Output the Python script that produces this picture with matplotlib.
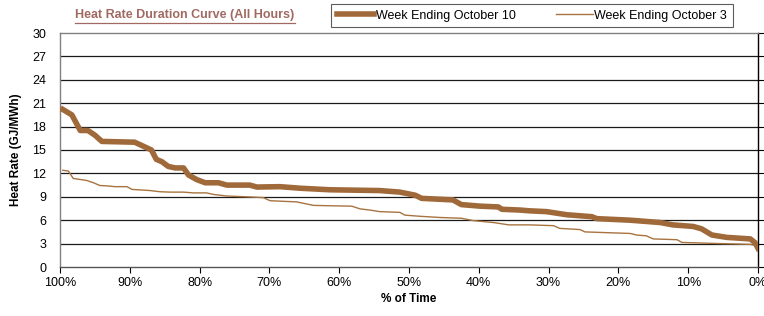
import matplotlib
matplotlib.use("Agg")
import matplotlib.pyplot as plt

plt.rcParams['font.family'] = ['Liberation Sans', 'DejaVu Sans']

title = "Heat Rate Duration Curve (All Hours)"
series_names = ["Week Ending October 10", "Week Ending October 3"]

pct_oct10 = [99.6, 98.3, 97.1, 96.0, 95.0, 94.0, 89.3, 88.1, 86.9, 86.2, 85.4, 84.5, 83.5, 82.3,
             81.6, 80.4, 79.2, 77.3, 76.1, 72.8, 71.8, 68.5, 65.6, 61.3, 54.2, 51.3, 49.1, 48.2,
             43.7, 42.5, 39.8, 37.2, 36.7, 34.1, 32.7, 30.3, 27.4, 23.8, 23.1, 18.3, 14.0, 12.2,
             9.3, 8.1, 6.6, 4.5, 1.1, 0.4, 0.0]
hr_oct10 = [20.2, 19.5, 17.5, 17.5, 16.9, 16.1, 16.0, 15.5, 15.0, 13.8, 13.5, 12.9, 12.7, 12.7,
            11.8, 11.2, 10.8, 10.8, 10.5, 10.5, 10.25, 10.3, 10.1, 9.9, 9.8, 9.6, 9.2, 8.8,
            8.6, 8.0, 7.8, 7.7, 7.4, 7.3, 7.2, 7.1, 6.7, 6.45, 6.2, 6.0, 5.7, 5.4,
            5.2, 4.9, 4.1, 3.8, 3.6, 3.1, 2.4]

pct_oct3 = [99.6, 98.8, 98.1, 96.2, 95.2, 94.3, 93.3, 92.1, 90.4, 89.7, 87.1, 85.7, 84.2, 82.3,
            80.9, 79.0, 78.0, 76.1, 73.3, 70.9, 69.9, 67.5, 66.1, 63.7, 61.3, 58.2, 57.0, 55.6,
            54.2, 51.3, 50.6, 48.4, 45.6, 42.5, 40.8, 37.9, 35.7, 32.7, 29.3, 28.4, 25.5, 24.8,
            18.3, 17.4, 16.0, 15.0, 11.6, 10.9, 5.4, 1.1, 0.0]
hr_oct3 = [12.4, 12.3, 11.35, 11.1, 10.8, 10.45, 10.4, 10.3, 10.3, 9.95, 9.8, 9.65, 9.6, 9.6,
           9.5, 9.5, 9.3, 9.1, 9.0, 8.9, 8.5, 8.4, 8.35, 7.9, 7.85, 7.8, 7.45, 7.3,
           7.1, 7.0, 6.65, 6.5, 6.35, 6.25, 5.95, 5.7, 5.4, 5.4, 5.3, 4.95, 4.8, 4.5,
           4.3, 4.1, 4.0, 3.6, 3.5, 3.15, 3.0, 2.9, 2.7]

y_ticks = [0, 3, 6, 9, 12, 15, 18, 21, 24, 27, 30]
x_ticks = [100, 90, 80, 70, 60, 50, 40, 30, 20, 10, 0]
x_labels = [f"{v}%" for v in x_ticks]

fig = plt.figure(figsize=(7.64, 3.16), dpi=100)
ax = fig.add_axes([60/764, 1-267/316, (758-60)/764, (267-33)/316])

for y in y_ticks[1:-1]:
    ax.axhline(y, color='#1a1a1a', lw=0.9, zorder=1)

ax.plot(pct_oct3, hr_oct3, color='#A8733F', lw=1.0, zorder=3, label=series_names[1])
ax.plot(pct_oct10, hr_oct10, color='#A0693A', lw=4.0, zorder=4, solid_joinstyle='round',
        label=series_names[0])

ax.set_xlim(100, 0)
ax.set_ylim(0, 30)
ax.set_yticks(y_ticks)
ax.set_xticks(x_ticks)
ax.set_xticklabels(x_labels)
ax.tick_params(axis='y', which='both', left=False, right=True, direction='out',
               length=4, width=0.8, labelsize=9, pad=6)
ax.tick_params(axis='x', direction='out', length=4, width=0.8, labelsize=9, pad=3)
ax.yaxis.set_tick_params(labelleft=True, labelright=False)

ax.spines['left'].set_color('#808080')
ax.spines['top'].set_color('#808080')
ax.spines['bottom'].set_color('#555555')
ax.spines['right'].set_color('#000000')
for s in ax.spines.values():
    s.set_linewidth(1.0)

ax.set_xlabel("% of Time", fontsize=8.5, fontweight='bold', labelpad=3)
ax.set_ylabel("Heat Rate (GJ/MWh)", fontsize=8.5, fontweight='bold', labelpad=7)

fig.text(185/764, 1-15/316, title, ha='center', va='center', fontsize=9,
         fontweight='bold', color='#A06A62')
fig.add_artist(matplotlib.lines.Line2D([75/764, 295/764], [1-23/316, 1-23/316],
                                       color='#A06A62', lw=0.9))

handles, labels = ax.get_legend_handles_labels()
leg = fig.legend(handles[::-1], labels[::-1], loc='center', ncol=2,
                 bbox_to_anchor=(532/764, 1-15.5/316), fontsize=9, frameon=True,
                 fancybox=False, edgecolor='#333333', borderpad=0.45, handlelength=3.0,
                 handletextpad=0.1, columnspacing=3.2)
leg.get_frame().set_linewidth(0.8)

fig.savefig("out.png", dpi=100)
